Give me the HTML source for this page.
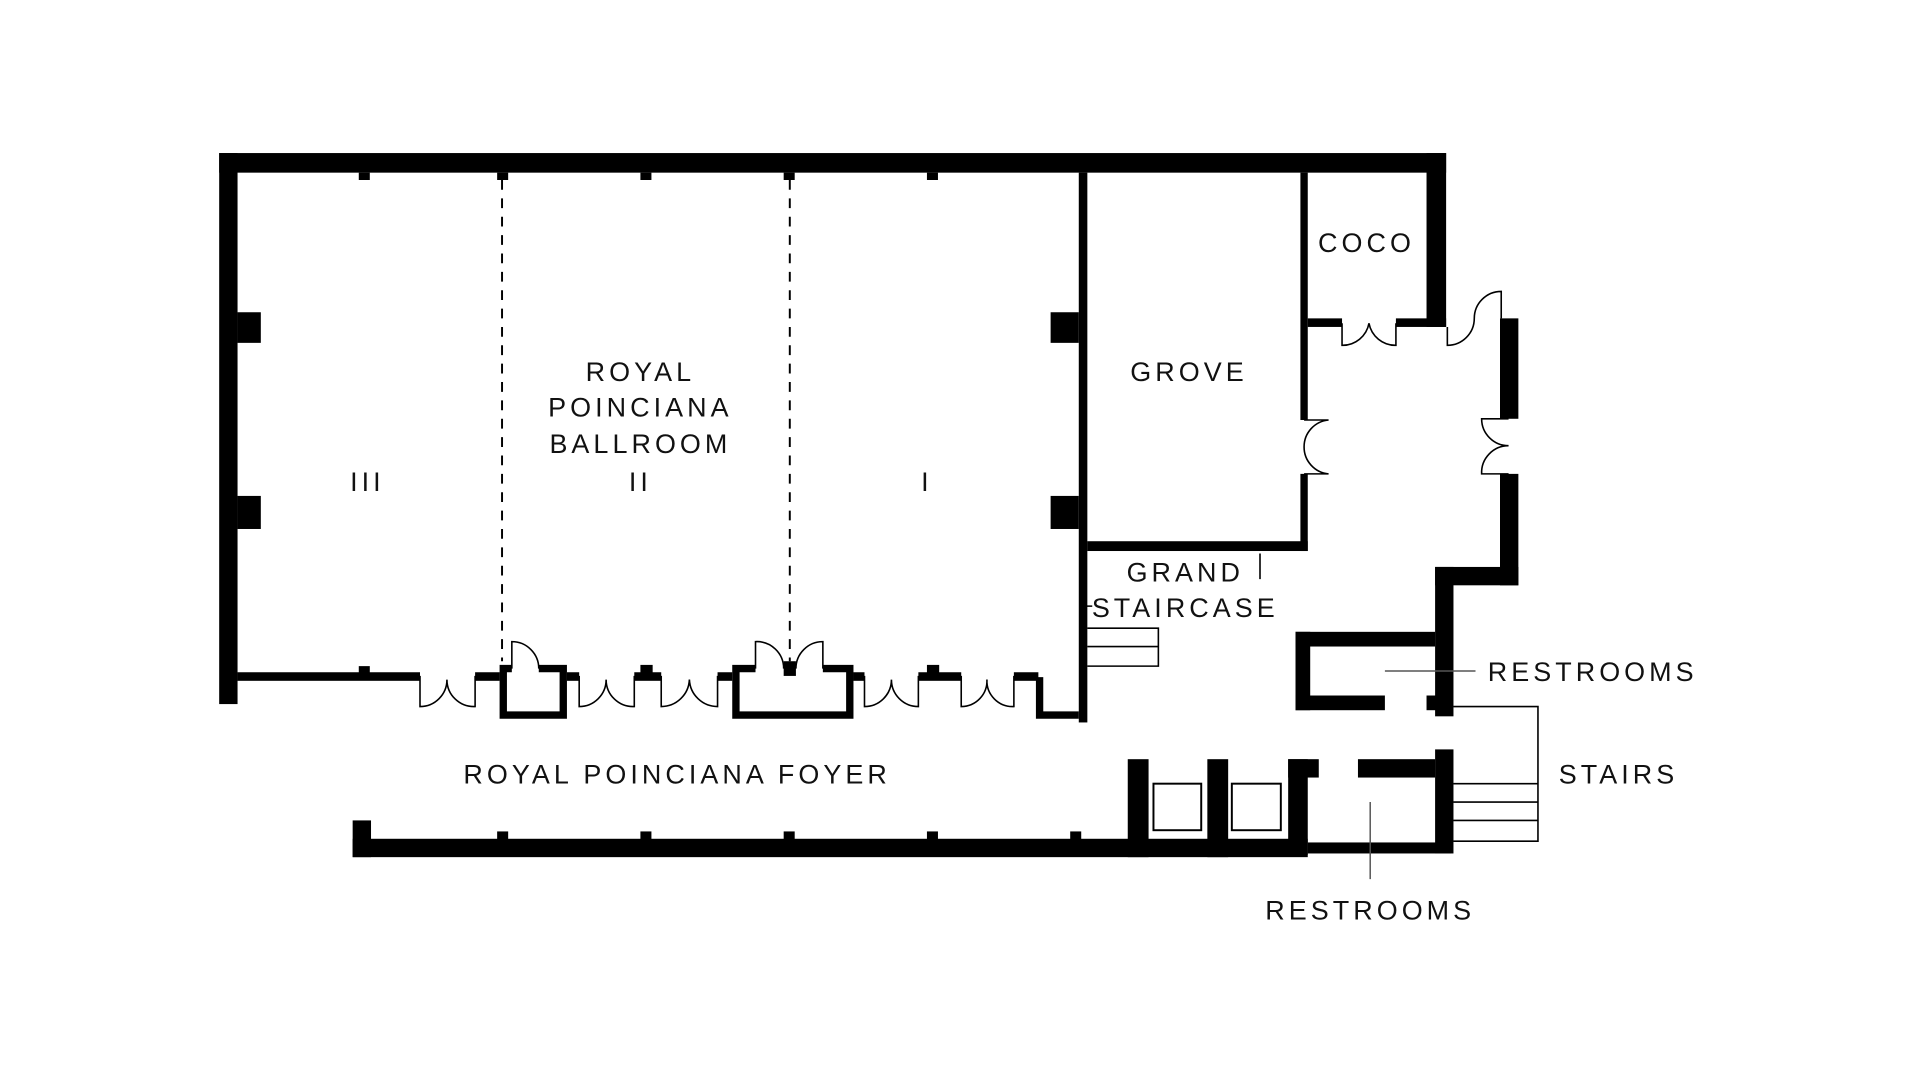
<!DOCTYPE html>
<html><head><meta charset="utf-8"><style>
html,body{margin:0;padding:0;background:#fff;width:1920px;height:1080px;overflow:hidden}
svg{display:block}
text{font-family:"Liberation Sans",sans-serif;font-size:22px;letter-spacing:3.3px;fill:#111}
</style></head><body>
<svg width="1920" height="1080" viewBox="0 0 1568 882" preserveAspectRatio="none" xmlns="http://www.w3.org/2000/svg">
<rect width="1568" height="882" fill="#fff"/>
<g fill="#000">
<rect x="179" y="125" width="1002" height="16"/>
<rect x="179" y="125" width="15" height="450"/>
<rect x="194" y="255" width="19" height="25"/>
<rect x="194" y="405" width="19" height="27"/>
<rect x="293" y="141" width="9" height="6"/><rect x="406" y="141" width="9" height="6"/>
<rect x="523" y="141" width="9" height="6"/><rect x="640" y="141" width="9" height="6"/>
<rect x="757" y="141" width="9" height="6"/>
<rect x="881" y="141" width="7" height="449"/>
<rect x="858" y="255" width="23" height="25"/>
<rect x="858" y="405" width="23" height="27"/>
<rect x="194" y="549" width="149" height="7"/>
<rect x="293" y="544" width="9" height="6"/>
<rect x="388" y="549" width="20" height="7"/>
<rect x="463" y="549" width="10" height="7"/>
<rect x="518" y="549" width="22" height="7"/><rect x="523" y="543" width="10" height="7"/>
<rect x="586" y="549" width="12" height="7"/>
<rect x="697" y="549" width="9" height="7"/>
<rect x="750" y="549" width="35" height="7"/><rect x="757" y="543" width="10" height="7"/>
<rect x="828" y="549" width="20" height="7"/>
<rect x="888" y="442" width="180" height="8"/>
<rect x="1062" y="141" width="6" height="202"/>
<rect x="1062" y="387" width="6" height="63"/>
<rect x="1068" y="260" width="28" height="7"/>
<rect x="1140" y="260" width="41" height="7"/>
<rect x="1165" y="125" width="16" height="142"/>
<rect x="1225" y="260" width="15" height="82"/>
<rect x="1225" y="387" width="15" height="91"/>
<rect x="1172" y="463" width="68" height="15"/>
<rect x="1172" y="463" width="15" height="122"/>
<rect x="1058" y="516" width="114" height="12"/>
<rect x="1058" y="516" width="12" height="64"/>
<rect x="1058" y="568" width="73" height="12"/>
<rect x="1165" y="568" width="15" height="12"/>
<rect x="921" y="620" width="17" height="80"/>
<rect x="986" y="620" width="17" height="80"/>
<rect x="1052" y="620" width="16" height="78"/><rect x="1052" y="620" width="25" height="15"/>
<rect x="1109" y="620" width="63" height="15"/>
<rect x="1172" y="612" width="15" height="85"/>
<rect x="1068" y="688" width="117" height="9"/>
<rect x="288" y="685" width="780" height="15"/>
<rect x="288" y="670" width="15" height="30"/>
<rect x="406" y="679" width="9" height="7"/><rect x="523" y="679" width="9" height="7"/>
<rect x="640" y="679" width="9" height="7"/><rect x="757" y="679" width="9" height="7"/>
<rect x="874" y="679" width="9" height="7"/>
<rect x="640" y="540" width="10" height="12"/>
</g>
<g fill="none" stroke="#000">
<path d="M418 546 H411 V584 H460 V546 H440" stroke-width="6"/>
<path d="M617 546 H601 V584 H694 V546 H672" stroke-width="6"/>
<path d="M849 553 V584 H881" stroke-width="6"/>
<path d="M410 147 V540 M645 147 V540" stroke-width="1.6" stroke-dasharray="8,7"/>
<g stroke-width="1.3">
<path d="M343 552 V577 A22 22 0 0 0 365 555 A22 22 0 0 0 388 577 V552"/>
<path d="M473 552 V577 A22 22 0 0 0 495 555 A22 22 0 0 0 518 577 V552"/>
<path d="M540 552 V577 A23 23 0 0 0 563 555 A23 23 0 0 0 586 577 V552"/>
<path d="M706 552 V577 A22 22 0 0 0 728 555 A22 22 0 0 0 750 577 V552"/>
<path d="M785 552 V577 A21 21 0 0 0 806 555 A21 21 0 0 0 828 577 V552"/>
<path d="M418 546 V524 A22 22 0 0 1 440 546"/>
<path d="M617 546 V524 A22 22 0 0 1 640 546 M672 546 V524 A22 22 0 0 0 650 546"/>
<path d="M1065 343 H1085 A22 22 0 0 0 1065 365 A22 22 0 0 0 1085 387 H1065"/>
<path d="M1096 264 V282 A22 22 0 0 0 1118 264 A22 22 0 0 0 1140 282 V264"/>
<path d="M1182 267 V282 A22 22 0 0 0 1204 260 A22 22 0 0 1 1226 238 V260"/>
<path d="M1232 342 H1210 A22 22 0 0 0 1232 364 A22 22 0 0 0 1210 387 H1232"/>
<path d="M888 513 H946 V544 H888 M888 528 H946"/>
<path d="M1029 452 V473 M884 495 H892"/>
<path d="M1187 577 H1256 V687 H1187 M1187 640 H1256 M1187 655 H1256 M1187 670 H1256"/>
<rect x="942" y="640" width="39" height="38" stroke-width="1.6"/>
<rect x="1006" y="640" width="40" height="38" stroke-width="1.6"/>
</g>
<path d="M1131 548 H1205 M1119 655 V718" stroke="#555" stroke-width="1.2"/>
</g>
<text x="523" y="311" text-anchor="middle">ROYAL</text>
<text x="523" y="340" text-anchor="middle">POINCIANA</text>
<text x="523" y="370" text-anchor="middle">BALLROOM</text>
<text x="300" y="401" text-anchor="middle">III</text>
<text x="523" y="401" text-anchor="middle">II</text>
<text x="757" y="401" text-anchor="middle">I</text>
<text x="971" y="311" text-anchor="middle">GROVE</text>
<text x="1116" y="206" text-anchor="middle">COCO</text>
<text x="968" y="475" text-anchor="middle">GRAND</text>
<text x="968" y="504" text-anchor="middle">STAIRCASE</text>
<text x="1215" y="556">RESTROOMS</text>
<text x="1273" y="640">STAIRS</text>
<text x="553" y="640" text-anchor="middle">ROYAL POINCIANA FOYER</text>
<text x="1119" y="751" text-anchor="middle">RESTROOMS</text>
</svg>
</body></html>
